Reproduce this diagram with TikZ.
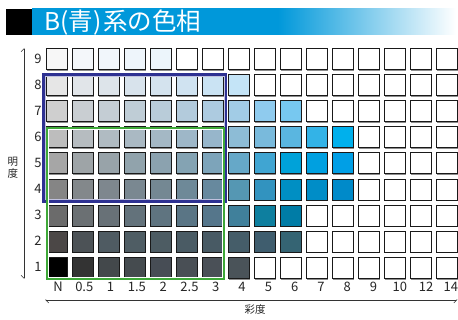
\documentclass[tikz,border=0pt]{standalone}
\usepackage{fontspec}
\setmainfont{Noto Sans CJK JP}
\usetikzlibrary{arrows.meta}
\definecolor{titleblue}{RGB}{0,152,218}
\definecolor{navy}{RGB}{46,49,146}
\definecolor{grn}{RGB}{62,168,56}
\pgfdeclarehorizontalshading{titlesh}{100bp}{color(0bp)=(titleblue); color(25bp)=(titleblue); color(54bp)=(titleblue); color(75bp)=(white); color(100bp)=(white)}
\tikzset{
  cell/.style={draw=black!90, line width=0.9pt, minimum size=21pt, inner sep=0pt, outer sep=0pt, anchor=north west},
  cellshadow/.style={fill=black!45},
  lab/.style={font=\fontsize{13}{13}\selectfont, text=black!85, inner sep=0pt},
  axislab/.style={font=\fontsize{10.5}{10.5}\selectfont, text=black!85, inner sep=0pt},
  axisline/.style={line width=0.6pt, black!80, {Straight Barb[harpoon,length=3pt,width=6pt]}-{Straight Barb[harpoon,swap,length=3pt,width=6pt]}},
  frameline/.style={line width=2.4pt},
  innerline/.style={line width=0.7pt, white},
}
\begin{document}
\begin{tikzpicture}[x=1pt,y=-1pt]
\useasboundingbox (0,0) rectangle (458,320);
% title bar
\fill[black] (6,9) rectangle (32.2,35);
\shade[shading=titlesh] (32,9) rectangle (456,35);
\node[anchor=base west, inner sep=0pt, text=white, font=\fontsize{24.5}{24.5}\selectfont] (title) at (44,31) {B(青)\kern2pt 系の色相};
% cells
\foreach \r/\cols in {
 9/{F7F7F7,F4F7FA,F1F6FB,EEF5FB,ECF5FB,FFFFFF,FFFFFF,FFFFFF,FFFFFF,FFFFFF,FFFFFF,FFFFFF,FFFFFF,FFFFFF,FFFFFF,FFFFFF},
 8/{E6E6E6,E1E5E9,DDE4EA,D8E3EC,D4E3EE,D0E3F1,CAE3F3,C4E4F7,FFFFFF,FFFFFF,FFFFFF,FFFFFF,FFFFFF,FFFFFF,FFFFFF,FFFFFF},
 7/{CFCFCF,C9CED2,C4CDD4,BFCDD6,B9CCD9,B3CBDC,ADCBE0,A2CCE6,8FCBEE,77C8F0,FFFFFF,FFFFFF,FFFFFF,FFFFFF,FFFFFF,FFFFFF},
 6/{BDBDBD,B6BCC0,B0BBC2,AAB9C3,A4B8C5,9EB7C8,97B6CB,8DBCD6,79BADC,5AB6E0,33B3E7,00B0EC,FFFFFF,FFFFFF,FFFFFF,FFFFFF},
 5/{A6A6A6,9EA4A7,98A3A9,91A3AC,8BA2AF,84A3B3,7DA4BA,66A8C8,40A5D2,00A2D9,00A0E0,009FE6,FFFFFF,FFFFFF,FFFFFF,FFFFFF},
 4/{858585,83888B,7E878E,7A8891,748893,6E8998,67899E,5597B3,3293BF,008FC3,008DC7,008AC9,FFFFFF,FFFFFF,FFFFFF,FFFFFF},
 3/{6B6B6B,6B7073,687177,63727B,5F7480,5A7585,55768B,40809B,0E7F9F,007CA6,FFFFFF,FFFFFF,FFFFFF,FFFFFF,FFFFFF,FFFFFF},
 2/{4B4746,4C5256,4F5B62,4F5D64,4D5C63,4A5B64,485A64,455D69,3F5D6E,356473,FFFFFF,FFFFFF,FFFFFF,FFFFFF,FFFFFF,FFFFFF},
 1/{000000,333333,43484B,454B4F,474D55,494F55,4A5057,4A5359,FFFFFF,FFFFFF,FFFFFF,FFFFFF,FFFFFF,FFFFFF,FFFFFF,FFFFFF}}{
  \foreach \h [count=\c from 0] in \cols {
    \definecolor{cellc}{HTML}{\h}
    \fill[cellshadow] ({46+26*\c+1.3},{48.5+26.1*(9-\r)+1.3}) rectangle +(21,21);
    \node[cell, fill=cellc] (cell-\r-\c) at ({46+26*\c},{48.5+26.1*(9-\r)}) {};
  }
  \node[lab] (row-\r) at (38,{48.5+26.1*(9-\r)+10}) {\r};
}
% column labels
\foreach \t/\xx [count=\i from 0] in {N/58,0.5/84.3,1/110.6,1.5/136.9,2/163.2,2.5/189.5,3/215.8,4/242.1,5/268.4,6/294.7,7/321,8/347.3,9/373.6,10/399.9,12/426.2,14/450.8}{
  \node[lab] (col-\i) at (\xx,287) {\t};
}
% frames
\draw[navy, frameline] (43.5,74.5) rectangle (226,201.5);
\draw[innerline, white!70!navy] (45.2,76.2) rectangle (224.3,199.8);
\draw[grn, frameline, line width=2.1pt] (47,128) rectangle (223.5,279);
\draw[innerline] (48.6,129.6) rectangle (221.9,277.4);
% axes
\coordinate (vt) at (24,48);
\coordinate (vb) at (24,279);
\draw[axisline] (vt) -- (vb);
\coordinate (hl) at (45,300);
\coordinate (hr) at (457.5,300);
\draw[axisline] (hl) -- (hr);
\node[axislab] (ylab1) at (13,161.5) {明};
\node[axislab] (ylab2) at (13,173.5) {度};
\node[axislab] (xlab) at (255,309.5) {彩度};
\end{tikzpicture}
\end{document}
